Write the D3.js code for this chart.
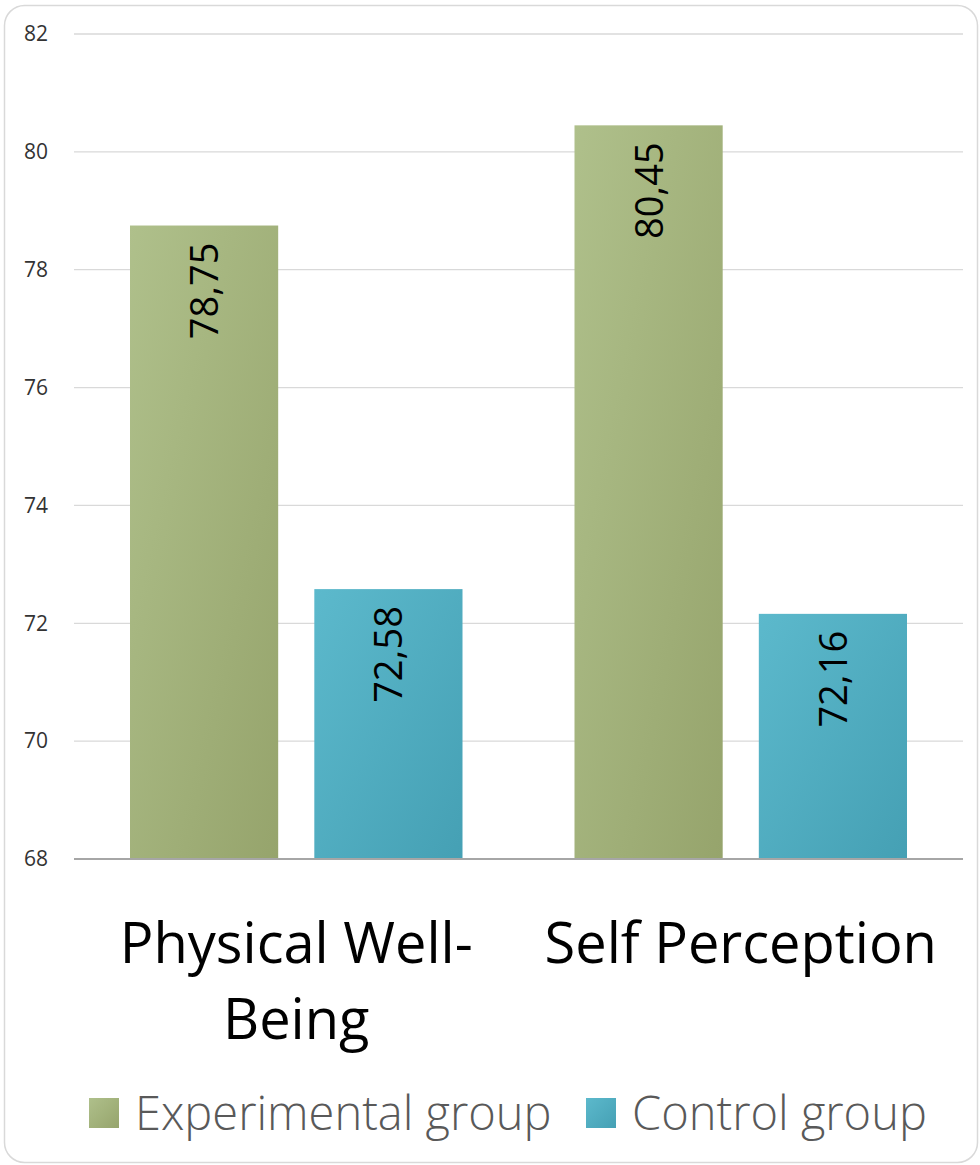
<!DOCTYPE html>
<html>
<head>
<meta charset="utf-8">
<script src="https://cdn.jsdelivr.net/npm/d3@7"></script>
<style>
  body { margin: 0; background: #fff; }
  svg { display: block; font-family: "Open Sans", sans-serif; }
</style>
</head>
<body>
<div id="chart"></div>
<script>
// data
var categories = ["Physical Well-Being", "Self Perception"];
var categoryLines = [["Physical Well-", "Being"], ["Self Perception"]];
var seriesNames = ["Experimental group", "Control group"];
var experimental = [78.75, 80.45];
var control = [72.58, 72.16];
var yTicks = [68, 70, 72, 74, 76, 78, 80, 82];

var w = 980, h = 1165;
var plotLeft = 74, plotRight = 963, plotTop = 34, plotBottom = 859;

var svg = d3.select('#chart')
  .append('svg')
  .attr('width', w)
  .attr('height', h);

// gradients for the bars
var defs = svg.append('defs');
var gradColors = [["#afc08b", "#96a46c"], ["#5cb9cc", "#45a0b4"]];
gradColors.forEach(function(c, i) {
  var g = defs.append('linearGradient')
    .attr('id', 'grad' + i)
    .attr('x1', 0).attr('y1', 0).attr('x2', 1).attr('y2', 1);
  g.append('stop').attr('offset', '0%').attr('stop-color', c[0]);
  g.append('stop').attr('offset', '100%').attr('stop-color', c[1]);
});

// chart border
svg.append('rect')
  .attr('x', 4.5).attr('y', 5.5)
  .attr('width', 973).attr('height', 1157)
  .attr('rx', 20).attr('ry', 20)
  .attr('fill', 'none')
  .attr('stroke', '#d9d9d9')
  .attr('stroke-width', 1.5);

var y = d3.scaleLinear().domain([68, 82]).range([plotBottom, plotTop]);
var x0 = d3.scaleBand().domain(categories).range([plotLeft, plotRight]);
var x1 = d3.scaleBand().domain(seriesNames)
  .range([56, x0.bandwidth() - 56])
  .paddingInner(0.196);

// gridlines
svg.append('g').selectAll('line')
  .data(yTicks.slice(1))
  .enter()
  .append('line')
  .attr('x1', plotLeft).attr('x2', plotRight)
  .attr('y1', function(d) { return y(d); })
  .attr('y2', function(d) { return y(d); })
  .attr('stroke', '#d9d9d9')
  .attr('stroke-width', 1.3);

// y axis labels
var yAxis = d3.axisLeft(y).tickValues(yTicks).tickSize(0).tickPadding(0);
var ya = svg.append('g')
  .attr('transform', 'translate(48,0)')
  .call(yAxis);
ya.select('.domain').remove();
ya.selectAll('text')
  .attr('font-family', '"Open Sans", sans-serif')
  .attr('font-size', 21)
  .attr('fill', '#333');

// bars
var rows = categories.map(function(c, i) {
  return { cat: c, vals: [experimental[i], control[i]] };
});

var groups = svg.append('g').selectAll('g')
  .data(rows)
  .enter()
  .append('g')
  .attr('transform', function(d) { return 'translate(' + x0(d.cat) + ',0)'; });

var bars = groups.selectAll('g')
  .data(function(d) {
    return d.vals.map(function(v, i) { return { s: seriesNames[i], v: v, i: i }; });
  })
  .enter()
  .append('g');

bars.append('rect')
  .attr('x', function(d) { return x1(d.s); })
  .attr('y', function(d) { return y(d.v); })
  .attr('width', x1.bandwidth())
  .attr('height', function(d) { return plotBottom - y(d.v); })
  .attr('fill', function(d) { return 'url(#grad' + d.i + ')'; });

bars.append('text')
  .text(function(d) { return d3.format('.2f')(d.v).replace('.', ','); })
  .attr('transform', function(d) {
    return 'translate(' + (x1(d.s) + x1.bandwidth() / 2 + 14) + ',' + (y(d.v) + 17) + ') rotate(-90)';
  })
  .attr('text-anchor', 'end')
  .attr('font-size', 38)
  .attr('fill', '#000');

// axis line at the bottom
svg.append('line')
  .attr('x1', plotLeft).attr('x2', plotRight)
  .attr('y1', plotBottom).attr('y2', plotBottom)
  .attr('stroke', '#a6a6a6')
  .attr('stroke-width', 2);

// category labels
svg.append('g').selectAll('text')
  .data(categories)
  .enter()
  .append('text')
  .attr('x', function(d) { return x0(d) + x0.bandwidth() / 2; })
  .attr('y', 963)
  .attr('text-anchor', 'middle')
  .attr('font-size', 56)
  .attr('fill', '#000')
  .each(function(d, i) {
    var t = d3.select(this);
    categoryLines[i].forEach(function(line, j) {
      t.append('tspan')
        .attr('x', x0(d) + x0.bandwidth() / 2)
        .attr('dy', j === 0 ? 0 : 76)
        .text(line);
    });
  });

// legend
var legendX = [89, 586];
var legend = svg.append('g').selectAll('g')
  .data(seriesNames)
  .enter()
  .append('g')
  .attr('transform', function(d, i) { return 'translate(' + legendX[i] + ',1098)'; });

legend.append('rect')
  .attr('width', 30).attr('height', 30)
  .attr('fill', function(d, i) { return 'url(#grad' + i + ')'; });

legend.append('text')
  .attr('x', 46).attr('y', 32)
  .attr('font-size', 47)
  .attr('font-weight', 300)
  .attr('fill', '#595959')
  .text(function(d) { return d; });
</script>
</body>
</html>
